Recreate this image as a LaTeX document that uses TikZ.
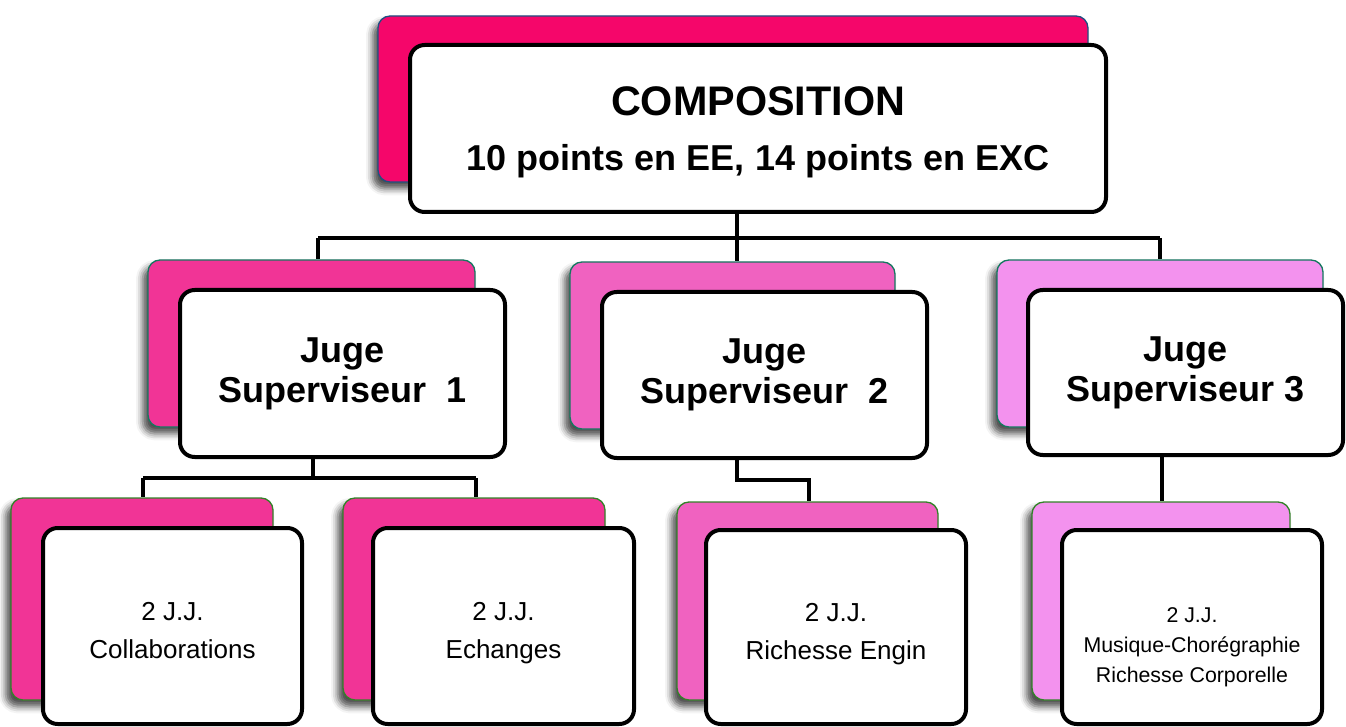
\documentclass[tikz,border=0pt]{standalone}
\usepackage{fontspec}
\setmainfont{Liberation Sans}
\usetikzlibrary{shadows.blur}
\definecolor{pinkA}{RGB}{245,6,106}
\definecolor{pinkB}{RGB}{241,52,150}
\definecolor{pinkC}{RGB}{240,98,192}
\definecolor{pinkD}{RGB}{243,146,238}
\definecolor{edgeA}{RGB}{30,80,130}
\definecolor{edgeB}{RGB}{20,120,95}
\definecolor{edgeC}{RGB}{50,130,40}
\tikzset{
  sz/.style 2 args={minimum width=#1*0.75pt,minimum height=#2*0.75pt},
  backbox/.style={draw=edgeB,line width=1pt,rounded corners=9pt,inner sep=0pt,
    blur shadow={shadow xshift=-4pt,shadow yshift=-5pt,shadow blur radius=5pt,shadow opacity=70}},
  frontbox/.style={draw=black,fill=white,line width=3pt,rounded corners=11pt,inner sep=0pt,align=center},
  conn/.style={draw=black,line width=3pt},
  jtext/.style={font=\fontsize{27}{30}\selectfont\bfseries},
  btext/.style={font=\fontsize{19.5}{29}\selectfont},
}
\begin{document}
\begin{tikzpicture}[x=0.75pt,y=-0.75pt]
\useasboundingbox (0,0) rectangle (1346,727);
% back boxes
\node[backbox,draw=edgeA,fill=pinkA,sz={710}{166}] (topb) at (733,99) {};
\node[backbox,fill=pinkB,sz={327}{167}] (j1b) at (311.5,343.5) {};
\node[backbox,fill=pinkC,sz={325}{167}] (j2b) at (732.5,345.5) {};
\node[backbox,fill=pinkD,sz={326}{167}] (j3b) at (1160,343.5) {};
\node[backbox,draw=edgeC,fill=pinkB,sz={262}{202}] (b1b) at (142,599) {};
\node[backbox,draw=edgeC,fill=pinkB,sz={262}{202}] (b2b) at (474,599) {};
\node[backbox,draw=edgeC,fill=pinkC,sz={261}{198}] (b3b) at (807.5,601) {};
\node[backbox,draw=edgeC,fill=pinkD,sz={258}{198}] (b4b) at (1161,601) {};
% front boxes
\node[frontbox,sz={696}{167},font=\fontsize{27}{41}\selectfont\bfseries] (top) at (758,128.5)
  {\rule{0pt}{27pt}{\fontsize{31}{41}\selectfont COMPOSITION}\\10 points en EE, 14 points en EXC};
\node[frontbox,jtext,sz={325}{167}] (j1) at (342.5,373.5) {Juge\\Superviseur\ \ 1};
\node[frontbox,jtext,sz={325}{166}] (j2) at (764.5,375) {Juge\\Superviseur\ \ 2};
\node[frontbox,jtext,sz={315}{165}] (j3) at (1185.5,372.5) {Juge\\Superviseur 3};
\node[frontbox,btext,sz={259}{196}] (b1) at (172.5,626) {\rule{0pt}{29pt}2 J.J.\\Collaborations\strut};
\node[frontbox,btext,sz={261}{196}] (b2) at (503.5,626) {\rule{0pt}{29pt}2 J.J.\\Echanges\strut};
\node[frontbox,btext,sz={260}{194}] (b3) at (836,627) {\rule{0pt}{29pt}2 J.J.\\Richesse Engin\strut};
\node[frontbox,font=\fontsize{16}{22.5}\selectfont,sz={260}{194}] (b4) at (1192,627)
  {\rule{0pt}{41pt}2 J.J.\\Musique-Chorégraphie\\Richesse Corporelle};
% junction coordinates
\coordinate (tc) at (737,238);
\coordinate (tl) at (318,238);
\coordinate (tr) at (1160,238);
\coordinate (j1c) at (313,478);
\coordinate (j1l) at (143,478);
\coordinate (j1r) at (476,478);
\coordinate (j2c) at (737,480);
\coordinate (j2r) at (809,480);
\coordinate (j3c) at (1162,480);
% connectors
\draw[conn] (top.south -| tc) -- (tc);
\draw[conn] (tl) -- (tr);
\draw[conn] (tl) -- (tl |- j1b.north);
\draw[conn] (tc) -- (tc |- j2b.north);
\draw[conn] (tr) -- (tr |- j3b.north);
\draw[conn] (j1.south -| j1c) -- (j1c);
\draw[conn] (j1l) -- (j1r);
\draw[conn] (j1l) -- (j1l |- b1b.north);
\draw[conn] (j1r) -- (j1r |- b2b.north);
\draw[conn] (j2.south -| j2c) -- (j2c) -- (j2r) -- (j2r |- b3b.north);
\draw[conn] (j3.south -| j3c) -- (j3c |- b4b.north);
\end{tikzpicture}
\end{document}
